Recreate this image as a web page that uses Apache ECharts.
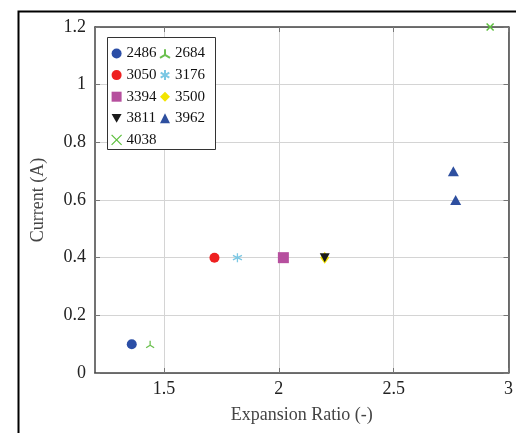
<!DOCTYPE html>
<html><head><meta charset="utf-8">
<script src="https://cdn.jsdelivr.net/npm/echarts@6/dist/echarts.min.js"></script>
<style>html,body{margin:0;padding:0;background:#fff}#c{width:516px;height:433px}</style>
</head><body><div id="c"></div>
<script>
// ---- data ----
const seriesNames = ['2486','2684','3050','3176','3394','3500','3811','3962','4038'];
const x2486 = [1.36], y2486 = [0.1];
const x2684 = [1.44], y2684 = [0.1];
const x3050 = [1.72], y3050 = [0.4];
const x3176 = [1.82], y3176 = [0.4];
const x3394 = [2.02], y3394 = [0.4];
const x3500 = [2.20], y3500 = [0.4];
const x3811 = [2.20], y3811 = [0.4];
const x3962 = [2.76, 2.77], y3962 = [0.7, 0.6];
const x4038 = [2.92], y4038 = [1.2];
const xTicks = [1.5, 2, 2.5, 3];
const yTicks = [0, 0.2, 0.4, 0.6, 0.8, 1, 1.2];

const xs = [x2486,x2684,x3050,x3176,x3394,x3500,x3811,x3962,x4038];
const ys = [y2486,y2684,y3050,y3176,y3394,y3500,y3811,y3962,y4038];

const FONT = 'Liberation Serif';
const styles = {
  '2486': {symbol:'circle', symbolSize:10, itemStyle:{color:'#2b4ea6', opacity:1}},
  '2684': {symbol:'path://M5 0 L5 5 M5 5 L0.7 7.5 M5 5 L9.3 7.5', symbolSize:[8,7], itemStyle:{color:'rgba(0,0,0,0)', borderColor:'#6cc050', borderWidth:1.2, opacity:1}},
  '3050': {symbol:'circle', symbolSize:10, itemStyle:{color:'#ee2020', opacity:1}},
  '3176': {symbol:'path://M5 0 L5 10 M0.67 2.5 L9.33 7.5 M0.67 7.5 L9.33 2.5', symbolSize:9, itemStyle:{color:'rgba(0,0,0,0)', borderColor:'#7cc8e4', borderWidth:1.3, opacity:1}},
  '3394': {symbol:'rect', symbolSize:11, itemStyle:{color:'#b64f9e', opacity:1}},
  '3500': {symbol:'diamond', symbolSize:[9,12], itemStyle:{color:'#f2e400', opacity:1}},
  '3811': {symbol:'path://M0 0 L10 0 L5 8.7 Z', symbolSize:[10,9], itemStyle:{color:'#1b1b1b', opacity:1}},
  '3962': {symbol:'triangle', symbolSize:[11,10], itemStyle:{color:'#2e4f9f', opacity:1}},
  '4038': {symbol:'path://M0 0 L10 10 M10 0 L0 10', symbolSize:7, itemStyle:{color:'rgba(0,0,0,0)', borderColor:'#5cbf3c', borderWidth:1.5, opacity:1}}
};

const series = seriesNames.map((n, i) => Object.assign({
  name: n, type: 'scatter', z: 2,
  data: xs[i].map((x, j) => [x, ys[i][j]])
}, styles[n]));

const legendItem = n => n === '4038' ? {name:n, itemStyle:{borderWidth:1.2}} : {name:n};

const axisLineStyle = {color:'#444', width:1.5};
const chart = echarts.init(document.getElementById('c'), null, {renderer:'canvas'});
chart.setOption({
  animation: false,
  backgroundColor: '#fff',
  textStyle: {fontFamily: FONT},
  grid: {left:95, right:5, top:27, bottom:60, containLabel:false},
  xAxis: [{
    type:'value', min:1.2, max:3, position:'bottom',
    name:'Expansion Ratio (-)', nameLocation:'middle', nameGap:33,
    nameTextStyle:{fontFamily:FONT, fontSize:18, color:'#444'},
    axisLine:{show:true, onZero:false, lineStyle:axisLineStyle},
    axisTick:{show:true, inside:true, length:5, customValues:xTicks, lineStyle:{color:'#777'}},
    axisLabel:{customValues:xTicks, fontFamily:FONT, fontSize:18, color:'#222', margin:7, formatter: v => String(v)},
    splitLine:{show:true, lineStyle:{color:'#d4d4d4', width:1}}
  },{
    type:'value', min:1.2, max:3, position:'top',
    axisLine:{show:true, onZero:false, lineStyle:axisLineStyle},
    axisTick:{show:true, inside:true, length:5, customValues:xTicks, lineStyle:{color:'#777'}},
    axisLabel:{show:false}, splitLine:{show:false}
  }],
  yAxis: [{
    type:'value', min:0, max:1.2, interval:0.2, position:'left',
    name:'Current (A)', nameLocation:'middle', nameGap:48,
    nameTextStyle:{fontFamily:FONT, fontSize:18, color:'#444'},
    axisLine:{show:true, onZero:false, lineStyle:axisLineStyle},
    axisTick:{show:true, inside:true, length:5, lineStyle:{color:'#777'}},
    axisLabel:{fontFamily:FONT, fontSize:18, color:'#222', margin:9},
    splitLine:{show:true, lineStyle:{color:'#d4d4d4', width:1}}
  },{
    type:'value', min:0, max:1.2, interval:0.2, position:'right',
    axisLine:{show:true, onZero:false, lineStyle:axisLineStyle},
    axisTick:{show:true, inside:true, length:5, lineStyle:{color:'#777'}},
    axisLabel:{show:false}, splitLine:{show:false}
  }],
  legend: [{
    orient:'vertical', left:106, top:41, itemWidth:10, itemHeight:10, itemGap:6.6,
    data:['2486','3050','3394','3811','4038'].map(legendItem),
    textStyle:{fontFamily:FONT, fontSize:15, color:'#111'}, z:5
  },{
    orient:'vertical', left:154, top:41, itemWidth:10, itemHeight:10, itemGap:6.6,
    data:['2684','3176','3500','3962'].map(legendItem),
    textStyle:{fontFamily:FONT, fontSize:15, color:'#111'}, z:5
  }],
  graphic: [
    {type:'rect', left:107, top:37, z:3, shape:{width:108, height:112}, style:{fill:'#fff', stroke:'#333', lineWidth:1}},
    {type:'rect', left:16, top:9, z:10, silent:true, shape:{x:0,y:0,width:540, height:460}, style:{fill:'none', stroke:'#000', lineWidth:2}}
  ],
  series: series
});
</script></body></html>
